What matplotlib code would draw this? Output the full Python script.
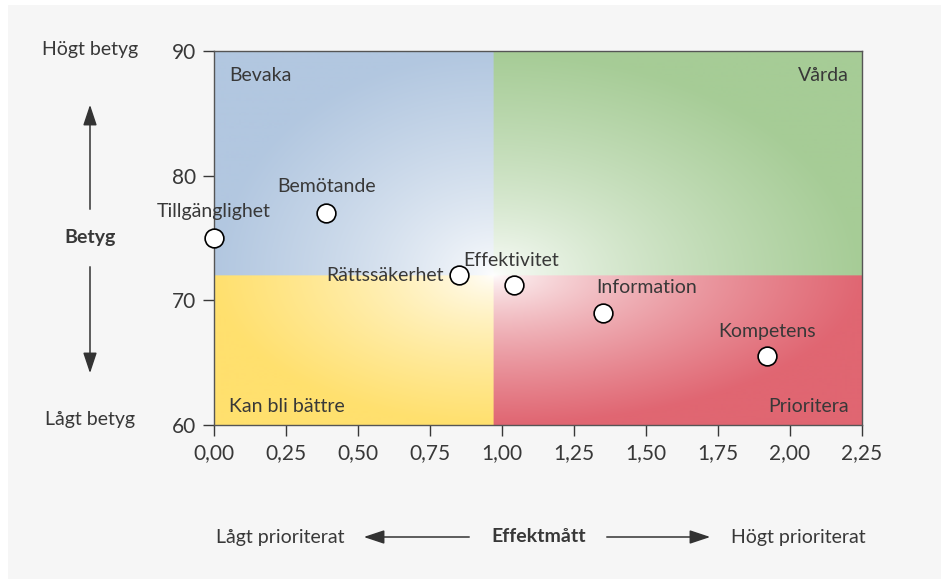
import matplotlib.pyplot as plt
import matplotlib.patches as mpatches
import numpy as np

plt.rcParams['font.family'] = ['Lato', 'DejaVu Sans']

# data
namn = ['Tillgänglighet', 'Bemötande', 'Rättssäkerhet', 'Effektivitet', 'Information', 'Kompetens']
effekt = [0.00, 0.39, 0.85, 1.04, 1.35, 1.92]
betyg = [75.0, 77.0, 72.0, 71.2, 69.0, 65.5]
kvadranter = ['Bevaka', 'Vårda', 'Kan bli bättre', 'Prioritera']
xticks = [0, 0.25, 0.5, 0.75, 1.0, 1.25, 1.5, 1.75, 2.0, 2.25]
yticks = [60, 70, 80, 90]

# mittpunkt for kvadranterna
mx, my = 0.97, 72.0
xmin, xmax, ymin, ymax = 0.0, 2.25, 60.0, 90.0

textfarg = '#383838'
fs = 14
W, H = 941, 579
fig = plt.figure(figsize=(W / 100, H / 100), dpi=100, facecolor='white')
# grå bakgrund
fig.patches.append(mpatches.Rectangle((8 / W, 0), 1 - 8 / W, 1 - 5 / H, transform=fig.transFigure,
                                      facecolor='#f6f6f6', edgecolor='none', zorder=-10))

ax = fig.add_axes([214 / W, 1 - 425 / H, (862 - 214) / W, (425 - 51) / H])

# gradient bild
nx, ny = 650, 375
xs = np.linspace(xmin, xmax, nx)
ys = np.linspace(ymin, ymax, ny)
X, Y = np.meshgrid(xs, ys)
blue = np.array([178, 199, 224]) / 255
green = np.array([166, 204, 150]) / 255
yellow = np.array([255, 224, 110]) / 255
red = np.array([224, 102, 114]) / 255
img = np.ones((ny, nx, 3))
hoger = X >= mx
upp = Y >= my
dx = np.where(hoger, (X - mx) / (xmax - mx), (mx - X) / (mx - xmin))
dy = np.where(upp, (Y - my) / (ymax - my), (my - Y) / (my - ymin))
t = np.clip(np.sqrt(dx ** 2 + dy ** 2) / 1.0, 0, 1) ** 0.7
for mask, col in [(~hoger & upp, blue), (hoger & upp, green), (~hoger & ~upp, yellow), (hoger & ~upp, red)]:
    for c in range(3):
        img[..., c] = np.where(mask, 1 - t * (1 - col[c]), img[..., c])
ax.imshow(img, extent=[xmin, xmax, ymin, ymax], origin='lower', aspect='auto', zorder=0)

ax.plot(effekt, betyg, 'o', ms=13.5, mfc='white', mec='black', mew=1.2, zorder=5, clip_on=False)

# etiketter
offs = [(0, 19, 'center'), (0, 19, 'center'), (-11, 0, 'right'), (-2, 18, 'center'), (-5, 18, 'left'), (0, 18, 'center')]
for n, x, y, (ox, oy, ha) in zip(namn, effekt, betyg, offs):
    ax.annotate(n, (x, y), xytext=(ox, oy), textcoords='offset points', ha=ha, va='center',
                fontsize=fs, color=textfarg, zorder=6)

ax.text(0.023, 0.935, kvadranter[0], transform=ax.transAxes, fontsize=fs, color=textfarg, va='center')
ax.text(0.98, 0.935, kvadranter[1], transform=ax.transAxes, fontsize=fs, color=textfarg, va='center', ha='right')
ax.text(0.023, 0.05, kvadranter[2], transform=ax.transAxes, fontsize=fs, color=textfarg, va='center')
ax.text(0.98, 0.05, kvadranter[3], transform=ax.transAxes, fontsize=fs, color=textfarg, va='center', ha='right')

ax.set_xlim(xmin, xmax)
ax.set_ylim(ymin, ymax)
ax.set_xticks(xticks)
ax.set_xticklabels([f'{v:.2f}'.replace('.', ',') for v in xticks])
ax.set_yticks(yticks)
ax.tick_params(labelsize=15, colors=textfarg, length=8, width=1, pad=5)
for s in ax.spines.values():
    s.set_color('#555555')
    s.set_linewidth(1)

# axeltexter
def ft(px, py, s, **kw):
    fig.text(px / W, 1 - py / H, s, ha='center', va='center', fontsize=fs, color=textfarg, **kw)

ft(90, 49, 'Högt betyg')
ft(90, 419, 'Lågt betyg')
ft(90, 237, 'Betyg', fontweight='bold')
ft(280, 537, 'Lågt prioriterat')
ft(539, 537, 'Effektmått', fontweight='bold')
ft(798, 537, 'Högt prioriterat')

def arrow(x0, y0, x1, y1):
    fig.patches.append(mpatches.FancyArrowPatch((x0 / W, 1 - y0 / H), (x1 / W, 1 - y1 / H),
                                                transform=fig.transFigure, mutation_scale=14,
                                                arrowstyle='-|>,head_length=0.9,head_width=0.3',
                                                color='#333333', lw=1.1))

arrow(90, 212, 90, 102)
arrow(90, 264, 90, 376)
arrow(472, 537, 361, 537)
arrow(604, 537, 713, 537)

fig.savefig('out.png', dpi=100, facecolor=fig.get_facecolor())
